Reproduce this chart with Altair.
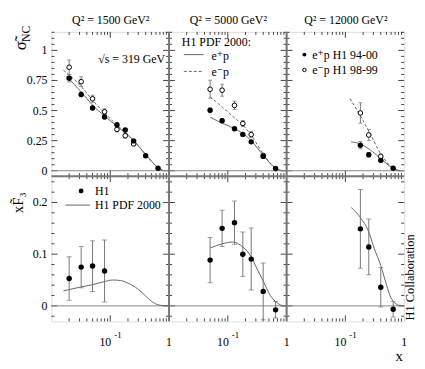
import altair as alt
import pandas as pd

FONT = "Liberation Serif, Times New Roman, DejaVu Serif, serif"
W = 119
HT = 146
HB = 147
TICK = "#444"
CURVE = "#666"
ERR = "#777"

X_DOMAIN = [0.01, 1.0]
YT_DOMAIN = [-0.045, 1.1535]
YB_DOMAIN = [-0.030, 0.251]

titles = ["Q\u00b2 = 1500 GeV\u00b2", "Q\u00b2 = 5000 GeV\u00b2", "Q\u00b2 = 12000 GeV\u00b2"]

# reduced NC cross section, e+p (H1 94-00)
sp_x = [[0.02, 0.032, 0.05, 0.08, 0.13, 0.18, 0.25, 0.4, 0.65],
        [0.05, 0.08, 0.13, 0.18, 0.25, 0.4, 0.65],
        [0.18, 0.25, 0.4, 0.65]]
sp_y = [[0.768, 0.634, 0.521, 0.447, 0.382, 0.338, 0.248, 0.125, 0.02],
        [0.502, 0.415, 0.349, 0.302, 0.24, 0.119, 0.018],
        [0.212, 0.133, 0.086, 0.02]]
sp_e = [[0.03, 0.02, 0.015, 0.015, 0.012, 0.012, 0.01, 0.008, 0.005],
        [0.02, 0.015, 0.012, 0.012, 0.01, 0.008, 0.005],
        [0.03, 0.018, 0.012, 0.006]]
# e-p (H1 98-99)
sm_x = [[0.02, 0.032, 0.05, 0.08, 0.13, 0.18, 0.25],
        [0.05, 0.08, 0.13, 0.18, 0.25, 0.4],
        [0.18, 0.25, 0.4]]
sm_y = [[0.86, 0.74, 0.598, 0.49, 0.343, 0.291, 0.223],
        [0.677, 0.669, 0.543, 0.392, 0.30, 0.127],
        [0.48, 0.297, 0.119]]
sm_e = [[0.06, 0.04, 0.03, 0.025, 0.02, 0.02, 0.015],
        [0.075, 0.05, 0.035, 0.025, 0.025, 0.015],
        [0.085, 0.045, 0.02]]
# H1 PDF 2000 curves, e+p (solid) and e-p (dashed)
cp_x = [[0.018, 0.032, 0.05, 0.08, 0.13, 0.18, 0.25, 0.4, 0.65, 0.8],
        [0.05, 0.08, 0.13, 0.18, 0.25, 0.4, 0.65, 0.85],
        [0.125, 0.18, 0.25, 0.4, 0.65, 0.85]]
cp_y = [[0.785, 0.655, 0.545, 0.455, 0.37, 0.315, 0.25, 0.135, 0.025, 0.0],
        [0.445, 0.395, 0.35, 0.31, 0.25, 0.128, 0.02, 0.0],
        [0.24, 0.222, 0.182, 0.10, 0.02, 0.0]]
cm_x = [[0.016, 0.032, 0.05, 0.08, 0.13, 0.18, 0.25, 0.4, 0.65, 0.8],
        [0.05, 0.08, 0.13, 0.18, 0.25, 0.4, 0.65, 0.85],
        [0.12, 0.18, 0.25, 0.4, 0.65, 0.85]]
cm_y = [[0.835, 0.70, 0.585, 0.48, 0.38, 0.32, 0.252, 0.135, 0.025, 0.0],
        [0.615, 0.53, 0.44, 0.38, 0.295, 0.14, 0.022, 0.0],
        [0.60, 0.455, 0.33, 0.14, 0.02, 0.0]]

# xF3
f_x = [[0.02, 0.032, 0.05, 0.08],
       [0.05, 0.08, 0.13, 0.18, 0.25, 0.4, 0.65],
       [0.18, 0.25, 0.4, 0.65]]
f_y = [[0.053, 0.075, 0.077, 0.0675],
       [0.0885, 0.150, 0.161, 0.100, 0.0905, 0.028, -0.0077],
       [0.149, 0.114, 0.036, -0.0065]]
f_e = [[0.042, 0.040, 0.049, 0.060],
       [0.044, 0.035, 0.042, 0.043, 0.06, 0.055, 0.016],
       [0.076, 0.054, 0.038, 0.015]]
fc_x = [[0.016, 0.03, 0.05, 0.08, 0.11, 0.15, 0.2, 0.3, 0.4, 0.5, 0.65, 0.8, 1.0],
        [0.05, 0.08, 0.12, 0.18, 0.25, 0.31, 0.4, 0.53, 0.69, 0.9, 1.0],
        [0.126, 0.18, 0.25, 0.31, 0.4, 0.5, 0.6, 0.83, 1.0]]
fc_y = [[0.029, 0.036, 0.041, 0.047, 0.050, 0.049, 0.044, 0.032, 0.019, 0.009, 0.002, 0.0005, 0.0],
        [0.112, 0.12, 0.1235, 0.114, 0.095, 0.073, 0.048, 0.02, 0.006, 0.0, 0.0],
        [0.19, 0.171, 0.143, 0.111, 0.078, 0.041, 0.015, 0.001, 0.0]]

# ticks and labels
x_major = [0.1]
x_minor = [0.02, 0.03, 0.04, 0.05, 0.06, 0.07, 0.08, 0.09,
           0.2, 0.3, 0.4, 0.5, 0.6, 0.7, 0.8, 0.9]
yt_major = [0.0, 0.25, 0.5, 0.75, 1.0]
yt_minor = [0.05, 0.1, 0.15, 0.2, 0.3, 0.35, 0.4, 0.45, 0.55, 0.6, 0.65, 0.7,
            0.8, 0.85, 0.9, 0.95, 1.05, 1.1, 1.15]
yb_major = [0.0, 0.1, 0.2]
yb_minor = [-0.02, 0.02, 0.04, 0.06, 0.08, 0.12, 0.14, 0.16, 0.18, 0.22, 0.24]
yt_labels = ["0", "0.25", "0.5", "0.75", "1"]
yb_labels = ["0", "0.1", "0.2"]
x_label_vals = [0.1, 1.0]
x_label_text = ["10", "1"]


def X(field="x"):
    return alt.X(f"{field}:Q", scale=alt.Scale(type="log", domain=X_DOMAIN, nice=False), axis=None)


def Y(field, dom):
    return alt.Y(f"{field}:Q", scale=alt.Scale(domain=dom, nice=False, zero=False), axis=None)


def txt(t, x, y, size=12, align="left", baseline="alphabetic", angle=0):
    return alt.Chart(pd.DataFrame({"t": [t]})).mark_text(
        font=FONT, fontSize=size, align=align, baseline=baseline, angle=angle, color="black"
    ).encode(x=alt.value(x), y=alt.value(y), text="t:N")


def tick_layers(ymaj, ymin, dom, h):
    layers = []
    for vals, L in ((x_major, 6), (x_minor, 3)):
        b = alt.Chart(pd.DataFrame({"x": vals})).mark_rule(color=TICK, strokeWidth=1)
        layers.append(b.encode(x=X(), y=alt.value(h), y2=alt.value(h - L)))
        layers.append(b.encode(x=X(), y=alt.value(0), y2=alt.value(L)))
    for vals, L in ((ymaj, 6), (ymin, 3)):
        b = alt.Chart(pd.DataFrame({"y": vals})).mark_rule(color=TICK, strokeWidth=1)
        layers.append(b.encode(y=Y("y", dom), x=alt.value(0), x2=alt.value(L)))
        layers.append(b.encode(y=Y("y", dom), x=alt.value(W), x2=alt.value(W - L)))
    return layers


def zero_line(dom):
    return alt.Chart(pd.DataFrame({"y": [0.0]})).mark_rule(color="#888", strokeWidth=1).encode(y=Y("y", dom))


def divider_v():
    return alt.Chart(pd.DataFrame({"a": [0]})).mark_rule(color="#777", strokeWidth=2).encode(
        x=alt.value(0), y=alt.value(0), y2=alt.value(HB))


def curve(xv, yv, dom, dashed=False):
    kw = dict(color=CURVE, strokeWidth=1, interpolate="monotone", clip=True)
    if dashed:
        kw["strokeDash"] = [3, 2]
    return alt.Chart(pd.DataFrame({"x": xv, "y": yv})).mark_line(**kw).encode(x=X(), y=Y("y", dom))


def err_layers(xv, yv, ev, dom, cap=5):
    d = pd.DataFrame({"x": xv,
                      "lo": [a - b for a, b in zip(yv, ev)],
                      "hi": [a + b for a, b in zip(yv, ev)]})
    base = alt.Chart(d)
    return [
        base.mark_rule(color=ERR, strokeWidth=1, clip=True).encode(x=X(), y=Y("lo", dom), y2="hi:Q"),
        base.mark_tick(orient="horizontal", size=cap, thickness=1, color=ERR, clip=True).encode(x=X(), y=Y("lo", dom)),
        base.mark_tick(orient="horizontal", size=cap, thickness=1, color=ERR, clip=True).encode(x=X(), y=Y("hi", dom)),
    ]


def pts(xv, yv, dom, open_=False, size=30):
    d = pd.DataFrame({"x": xv, "y": yv})
    if open_:
        m = alt.Chart(d).mark_circle(fill="white", stroke="black", strokeWidth=1, size=22, opacity=1, clip=True)
    else:
        m = alt.Chart(d).mark_circle(color="black", size=size, opacity=1, clip=True)
    return m.encode(x=X(), y=Y("y", dom))


def top_panel(i):
    dom = YT_DOMAIN
    L = tick_layers(yt_major, yt_minor, dom, HT)
    L.append(zero_line(dom))
    if i > 0:
        L.append(alt.Chart(pd.DataFrame({"a": [0]})).mark_rule(color="#777", strokeWidth=2).encode(
            x=alt.value(0), y=alt.value(0), y2=alt.value(HT)))
    L.append(curve(cm_x[i], cm_y[i], dom, dashed=True))
    L.append(curve(cp_x[i], cp_y[i], dom))
    L += err_layers(sm_x[i], sm_y[i], sm_e[i], dom, cap=4)
    L += err_layers(sp_x[i], sp_y[i], sp_e[i], dom, cap=4)
    L.append(pts(sm_x[i], sm_y[i], dom, open_=True))
    L.append(pts(sp_x[i], sp_y[i], dom))
    L.append(txt(titles[i], 60, -7.5, size=12, align="center"))
    if i == 0:
        L.append(alt.Chart(pd.DataFrame({"a": [0]})).mark_rule(opacity=0).encode(
            x=alt.value(-43), y=alt.value(-21), y2=alt.value(-20)))
        lab = pd.DataFrame({"y": yt_major, "t": yt_labels})
        L.append(alt.Chart(lab).mark_text(font=FONT, fontSize=12, align="right", baseline="middle").encode(
            x=alt.value(-4), y=Y("y", dom), text="t:N"))
        L.append(txt("\u03c3\u0303", -31, 14, size=17, align="center", baseline="middle", angle=270))
        L.append(txt("NC", -26, 2, size=12, align="center", baseline="middle", angle=270))
        L.append(txt("\u221as  = 319 GeV", 115, 31, size=12, align="right"))
    if i == 1:
        L.append(txt("H1 PDF 2000:", 13, 14))
        L.append(alt.Chart(pd.DataFrame({"a": [0]})).mark_rule(color=CURVE, strokeWidth=1).encode(
            x=alt.value(15), x2=alt.value(35), y=alt.value(23)))
        L.append(alt.Chart(pd.DataFrame({"a": [0]})).mark_rule(color=CURVE, strokeWidth=1, strokeDash=[3, 2]).encode(
            x=alt.value(15), x2=alt.value(35), y=alt.value(40)))
        L.append(txt("e\u207ap", 43, 28.5))
        L.append(txt("e\u207bp", 43, 44.5))
    if i == 2:
        L.append(alt.Chart(pd.DataFrame({"a": [0]})).mark_circle(color="black", size=16, opacity=1).encode(
            x=alt.value(18), y=alt.value(23)))
        L.append(alt.Chart(pd.DataFrame({"a": [0]})).mark_circle(fill="white", stroke="black", strokeWidth=1,
                                                                   size=12, opacity=1).encode(
            x=alt.value(18), y=alt.value(38.5)))
        L.append(txt("e\u207ap H1 94-00", 26, 27.5))
        L.append(txt("e\u207bp H1 98-99", 26, 43))
    return alt.layer(*L).properties(width=W, height=HT)


def bottom_panel(i):
    dom = YB_DOMAIN
    L = tick_layers(yb_major, yb_minor, dom, HB)
    L.append(zero_line(dom))
    L.append(alt.Chart(pd.DataFrame({"a": [0]})).mark_rule(color="#777", strokeWidth=2).encode(
        x=alt.value(0), x2=alt.value(W), y=alt.value(0)))
    if i > 0:
        L.append(divider_v())
    L.append(curve(fc_x[i], fc_y[i], dom))
    L += err_layers(f_x[i], f_y[i], f_e[i], dom, cap=5)
    L.append(pts(f_x[i], f_y[i], dom))
    xl = pd.DataFrame({"x": x_label_vals, "t": x_label_text})
    L.append(alt.Chart(xl.iloc[[0]]).mark_text(font=FONT, fontSize=12, align="right", dx=1).encode(
        x=X(), y=alt.value(168), text="t:N"))
    L.append(alt.Chart(xl.iloc[[1]]).mark_text(font=FONT, fontSize=12, align="center").encode(
        x=X(), y=alt.value(168), text="t:N"))
    L.append(alt.Chart(pd.DataFrame({"x": [0.1], "t": ["-1"]})).mark_text(
        font=FONT, fontSize=9, align="left", dx=4).encode(x=X(), y=alt.value(161), text="t:N"))
    if i == 0:
        lab = pd.DataFrame({"y": yb_major, "t": yb_labels})
        L.append(alt.Chart(lab).mark_text(font=FONT, fontSize=12, align="right", baseline="middle").encode(
            x=alt.value(-4), y=Y("y", dom), text="t:N"))
        L.append(txt("xF\u0303\u2083", -34, 27, size=15, align="center", baseline="middle", angle=270))
        L.append(alt.Chart(pd.DataFrame({"a": [0]})).mark_circle(color="black", size=24, opacity=1).encode(
            x=alt.value(30), y=alt.value(15)))
        L.append(alt.Chart(pd.DataFrame({"a": [0]})).mark_rule(color=CURVE, strokeWidth=1).encode(
            x=alt.value(14), x2=alt.value(39), y=alt.value(29.3)))
        L.append(txt("H1", 44, 19))
        L.append(txt("H1 PDF 2000", 44, 33))
    if i == 2:
        L.append(txt("x", 114, 187, size=15, align="center"))
        L.append(txt("H1 Collaboration", 125, 146, size=12.5, align="left", baseline="middle", angle=270))
    return alt.layer(*L).properties(width=W, height=HB)


chart = alt.concat(
    top_panel(0), top_panel(1), top_panel(2),
    bottom_panel(0), bottom_panel(1), bottom_panel(2),
    columns=3, spacing=0, bounds="flush",
).properties(padding=0).configure_view(stroke="#555", strokeWidth=1).configure(font=FONT)

chart.save("out.html", embed_options={"renderer": "svg", "actions": False})
